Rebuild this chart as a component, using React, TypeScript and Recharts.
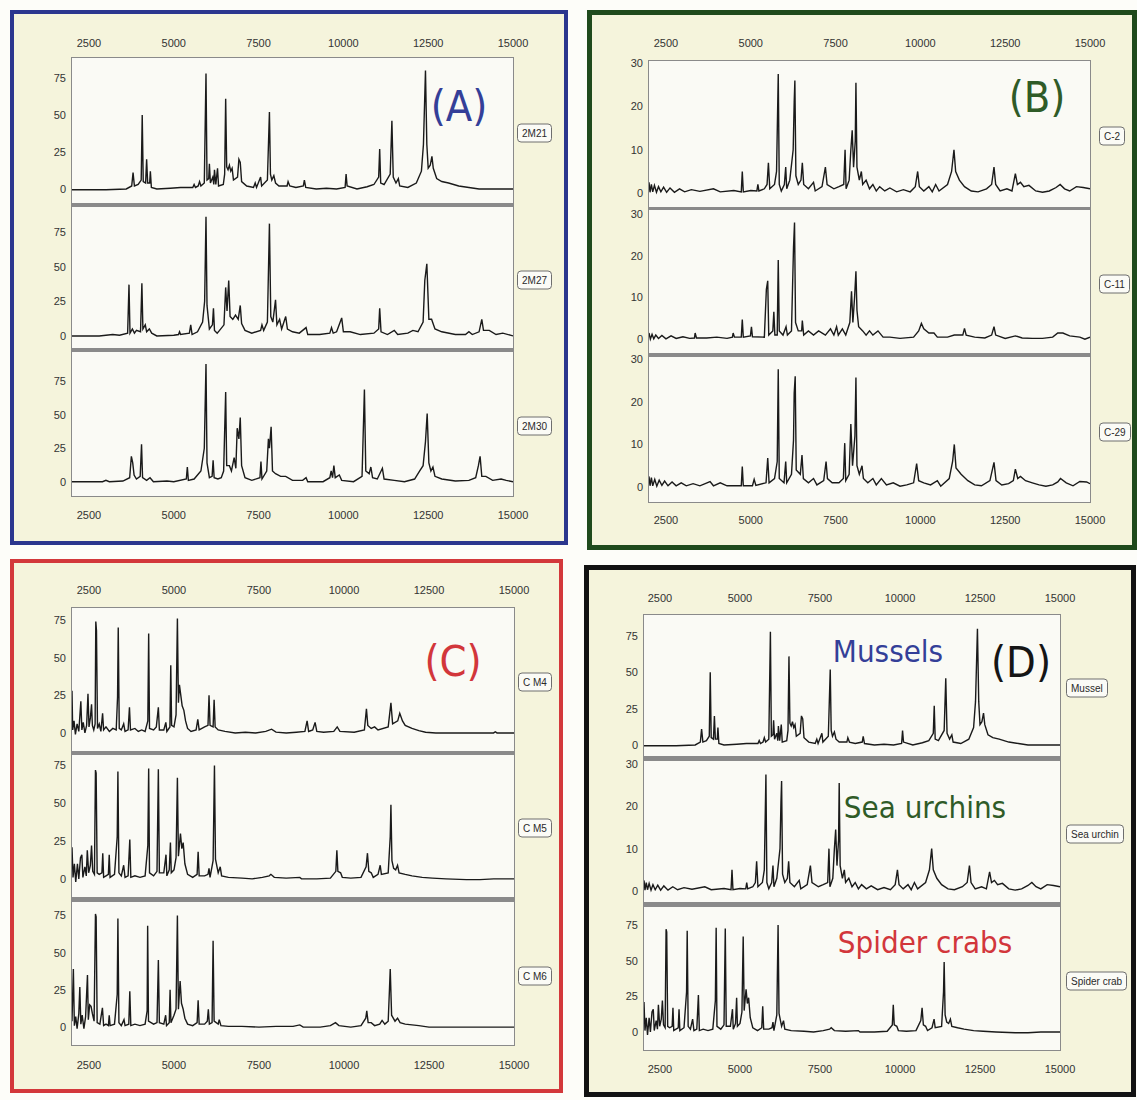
import { LineChart, Line, XAxis, YAxis, CartesianGrid } from "recharts";

type Pt = [number, number];

const mzTicks = [2500, 5000, 7500, 10000, 12500, 15000];
const ticks75 = [0, 25, 50, 75];
const ticks30 = [0, 10, 20, 30];

// (A) mussel samples
const spec2M21: Pt[] = [
  [2000, -0.5], [3000, -0.5], [3600, 0], [3760, 2], [3800, 11], [3840, 2], [3950, 3], [4040, 6], [4070, 50], [4100, 5],
  [4170, 4], [4200, 20], [4230, 4], [4290, 4], [4310, 12], [4340, 1], [4500, 0], [4900, 0.5], [5200, 1], [5560, 1],
  [5600, 3], [5640, 1], [5720, 2], [5760, 5], [5800, 2], [5900, 4], [5950, 78], [5980, 6], [6030, 7], [6050, 17],
  [6080, 4], [6150, 8], [6180, 3], [6200, 13], [6240, 3], [6290, 14], [6320, 2], [6460, 3], [6500, 10], [6530, 61],
  [6560, 15], [6600, 13], [6640, 16], [6680, 12], [6720, 14], [6760, 6], [6880, 8], [6920, 20], [6960, 18], [7000, 5],
  [7150, 2], [7350, 1], [7400, 4], [7440, 1], [7560, 8], [7590, 2], [7760, 6], [7820, 52], [7850, 10], [7890, 6],
  [7950, 9], [8000, 4], [8100, 2], [8340, 2], [8370, 5], [8420, 2], [8600, 1], [8820, 2], [8850, 6], [8890, 1],
  [9200, 0], [9500, 0.5], [9800, 0], [10050, 1], [10080, 10], [10110, 2], [10400, 0], [10700, 1.5], [10900, 3], [11040, 8],
  [11070, 27], [11100, 4], [11200, 3], [11380, 10], [11430, 46], [11470, 8], [11550, 4], [11620, 7], [11660, 2], [11900, 1],
  [12150, 4], [12300, 12], [12360, 30], [12420, 80], [12460, 30], [12500, 14], [12560, 16], [12610, 22], [12650, 14], [12750, 7],
  [12900, 5], [13100, 4], [13400, 2], [13700, 1], [14000, 0], [14500, 0], [15000, 0],
];

const spec2M27: Pt[] = [
  [2000, 0], [2800, 0], [3200, 1], [3400, 0.5], [3640, 2], [3680, 37], [3710, 2], [3780, 5], [3840, 2], [3900, 4],
  [4020, 3], [4060, 38], [4090, 5], [4160, 8], [4200, 3], [4280, 5], [4350, 2], [4500, 0], [5000, 0.5], [5140, 1],
  [5170, 3], [5200, 1], [5460, 2], [5500, 8], [5540, 1], [5700, 3], [5850, 10], [5910, 25], [5950, 86], [5980, 22],
  [6050, 5], [6140, 8], [6170, 20], [6200, 4], [6280, 2], [6350, 4], [6480, 8], [6530, 35], [6570, 18], [6620, 40],
  [6660, 14], [6740, 12], [6820, 15], [6900, 12], [6960, 22], [7000, 9], [7100, 4], [7300, 2], [7560, 4], [7600, 8],
  [7650, 4], [7760, 10], [7820, 81], [7860, 14], [7920, 10], [8000, 26], [8040, 8], [8120, 12], [8180, 5], [8300, 14],
  [8350, 5], [8500, 3], [8700, 2], [8900, 6], [8950, 1], [9300, 1], [9600, 2], [9650, 6], [9700, 2], [9800, 3],
  [9950, 13], [10000, 3], [10200, 3], [10500, 1], [10900, 2], [11040, 5], [11070, 20], [11110, 3], [11300, 1], [11500, 4],
  [11600, 1], [11900, 2], [12050, 4], [12200, 3], [12350, 10], [12400, 40], [12460, 52], [12520, 12], [12600, 12], [12700, 5],
  [12900, 3], [13300, 1], [13600, 1], [13700, 3], [13800, 1], [14000, 3], [14080, 12], [14130, 4], [14300, 4], [14500, 1],
  [14700, 2], [15000, 0],
];

const spec2M30: Pt[] = [
  [2000, 0], [2900, 0], [3000, 1], [3100, 0], [3500, 0.5], [3700, 3], [3750, 19], [3790, 14], [3830, 5], [3900, 2],
  [4010, 4], [4050, 28], [4080, 3], [4200, 1], [4300, 3], [4400, 0], [4800, 0.5], [5000, 0], [5370, 2], [5400, 11],
  [5430, 1], [5600, 2], [5800, 8], [5900, 25], [5950, 88], [5980, 14], [6050, 3], [6130, 4], [6160, 16], [6190, 3],
  [6300, 2], [6400, 3], [6470, 8], [6530, 67], [6560, 12], [6640, 12], [6700, 8], [6780, 18], [6830, 10], [6870, 40],
  [6920, 32], [6960, 48], [7000, 12], [7100, 3], [7300, 1], [7540, 3], [7570, 15], [7600, 2], [7740, 8], [7790, 32],
  [7820, 25], [7870, 41], [7910, 8], [8000, 6], [8150, 4], [8300, 4], [8500, 1], [8800, 1], [8900, 3], [8950, 0],
  [9400, 0], [9600, 3], [9640, 8], [9680, 3], [9720, 12], [9760, 3], [9880, 5], [9950, 1], [10300, 0], [10550, 4],
  [10620, 69], [10660, 8], [10760, 6], [10810, 11], [10860, 3], [11000, 2], [11150, 10], [11200, 2], [11500, 1], [11800, 0],
  [12100, 2], [12250, 8], [12350, 12], [12420, 30], [12470, 51], [12520, 14], [12580, 8], [12640, 11], [12700, 4], [12900, 2],
  [13300, 0.5], [13700, 1], [13900, 3], [13980, 12], [14030, 19], [14080, 4], [14200, 4], [14400, 1], [14650, 2], [14800, 1],
  [15000, 0],
];

// (B) sea urchin samples
const specC2: Pt[] = [
  [2000, 2.5], [2030, 0.2], [2070, 2], [2110, 0.3], [2160, 1.8], [2220, 0.2], [2280, 1.5], [2350, 0.3], [2430, 1.4], [2520, 0.2],
  [2620, 1.2], [2750, 0.2], [2900, 1], [3050, 0.3], [3250, 0.8], [3500, 0.4], [3900, 1], [4100, 0.3], [4500, 0.6], [4720, 0.3],
  [4750, 5], [4780, 0.3], [5000, 0.6], [5180, 0.5], [5210, 2], [5240, 0.5], [5400, 1], [5480, 2], [5520, 7], [5560, 1],
  [5700, 2], [5760, 5], [5810, 27.5], [5840, 2], [5900, 0.5], [5990, 2], [6030, 6], [6060, 1], [6150, 3], [6250, 10],
  [6280, 21], [6300, 26], [6330, 4], [6400, 2], [6480, 3], [6520, 7], [6560, 2], [6700, 1], [6850, 2.5], [6900, 0.5],
  [7100, 1.5], [7200, 6], [7250, 2], [7450, 1], [7600, 1.5], [7740, 2], [7780, 10], [7810, 1], [7900, 3], [7950, 10],
  [7990, 14.5], [8030, 6], [8080, 12], [8100, 25.5], [8130, 6], [8200, 3], [8260, 5], [8300, 2], [8400, 3], [8500, 1],
  [8600, 2], [8700, 0.5], [8800, 1.5], [8950, 0.5], [9100, 1.2], [9300, 0.3], [9500, 0.8], [9700, 0.3], [9850, 1.5], [9920, 5],
  [9970, 1.5], [10100, 0.5], [10250, 1.5], [10350, 0.3], [10450, 2], [10550, 0.5], [10800, 2], [10920, 5], [10990, 10], [11040, 5],
  [11150, 3], [11300, 1.5], [11500, 0.5], [11700, 0.3], [11950, 1], [12100, 2], [12170, 6], [12220, 2], [12350, 0.5], [12550, 1],
  [12700, 0.5], [12800, 4.5], [12860, 2], [12950, 2.5], [13050, 1.5], [13200, 1.8], [13400, 0.5], [13600, 0.2], [13800, 0.5], [14000, 1.3],
  [14120, 2], [14250, 1], [14400, 0.5], [14600, 1.5], [14800, 1.3], [15000, 1],
];

const specC11: Pt[] = [
  [2000, 1.5], [2040, 0], [2090, 1.2], [2140, 0.1], [2200, 1], [2280, 0.2], [2380, 0.9], [2500, 0.1], [2650, 0.8], [2800, 0.2],
  [3000, 0.6], [3200, 0.2], [3340, 0.3], [3360, 1.5], [3400, 0.3], [3700, 0.3], [4000, 0.5], [4300, 0.2], [4460, 0.5], [4480, 1.5],
  [4520, 0.5], [4720, 0.5], [4750, 4.7], [4780, 0.5], [4990, 0.8], [5020, 3], [5050, 0.6], [5400, 0.5], [5460, 12], [5500, 14],
  [5530, 1], [5650, 2], [5680, 6.6], [5710, 1], [5780, 1], [5810, 19], [5840, 2], [5950, 1], [6040, 3], [6080, 1],
  [6200, 2], [6260, 22], [6290, 28], [6320, 4], [6400, 2], [6500, 2], [6520, 4.5], [6560, 1], [6700, 2], [6850, 1],
  [7000, 2], [7200, 1], [7350, 2.5], [7450, 1], [7530, 3], [7580, 1], [7700, 2.5], [7800, 1], [7920, 4], [7970, 11.5],
  [8010, 4], [8060, 10], [8100, 16.3], [8130, 7], [8180, 3], [8300, 2], [8400, 1], [8500, 2], [8600, 1], [8750, 2],
  [8900, 0.5], [9100, 0.5], [9400, 0.2], [9800, 0.5], [9950, 2], [10030, 3.8], [10100, 2.5], [10250, 1.5], [10400, 1.5], [10500, 0.5],
  [10800, 0.5], [11000, 1], [11250, 1], [11300, 2.6], [11350, 1], [11600, 0.5], [11900, 0.3], [12100, 1], [12170, 3], [12220, 1],
  [12500, 0.2], [12800, 0.8], [13000, 0.3], [13300, 0.2], [13600, 0.2], [13900, 0.5], [14050, 1.5], [14200, 1.5], [14400, 0.8], [14700, 0.5],
  [14850, 0], [15000, 0.5],
];

const specC29: Pt[] = [
  [2000, 2.5], [2030, 0.3], [2070, 2.2], [2110, 0.3], [2170, 1.8], [2230, 0.2], [2300, 1.6], [2380, 0.4], [2460, 1.4], [2560, 0.3],
  [2680, 1.2], [2800, 0.3], [2950, 1], [3100, 0.3], [3300, 0.8], [3500, 0.3], [3800, 1.3], [3900, 0.3], [4100, 1], [4300, 0.3],
  [4720, 0.3], [4750, 4.8], [4780, 0.3], [5050, 0.3], [5100, 1.8], [5150, 0.4], [5450, 1], [5500, 6.8], [5540, 1], [5700, 2],
  [5780, 6], [5810, 27.6], [5840, 2], [5980, 1], [6030, 6], [6060, 1], [6200, 3], [6260, 11], [6280, 22], [6310, 26],
  [6340, 4], [6460, 3], [6510, 7.5], [6550, 2], [6700, 1], [6850, 2], [6950, 0.5], [7150, 1.5], [7220, 6], [7260, 2],
  [7400, 1], [7600, 1], [7730, 2], [7770, 10.3], [7800, 1.5], [7900, 3], [7950, 14.8], [8000, 5], [8070, 12], [8100, 25.7],
  [8130, 5], [8200, 3], [8280, 5], [8320, 2], [8450, 1], [8600, 2], [8700, 0.5], [8850, 2], [9000, 0.5], [9200, 1],
  [9400, 0.2], [9600, 0.5], [9800, 1], [9890, 5.5], [9950, 1.5], [10100, 1], [10300, 0.5], [10500, 1.5], [10600, 0.2], [10850, 2],
  [10950, 6], [11000, 10], [11050, 4.5], [11200, 3], [11400, 1.5], [11600, 0.5], [11800, 0.3], [12050, 1.5], [12170, 5.8], [12230, 1.5],
  [12400, 0.5], [12600, 0.8], [12740, 1.5], [12800, 4.2], [12870, 2], [12950, 2.5], [13100, 1.5], [13300, 1], [13500, 0.5], [13700, 0.2],
  [13900, 0.5], [14050, 1.2], [14130, 2], [14300, 1], [14500, 0.3], [14700, 1.3], [14900, 1.2], [15000, 0.8],
];

// (C) spider crab samples
const specCM4: Pt[] = [
  [2000, 28], [2020, 2], [2060, 8], [2100, -1], [2150, 6], [2200, 1], [2260, 21], [2290, 2], [2330, 7], [2380, 0],
  [2430, 5], [2470, 26], [2500, 4], [2540, 10], [2575, 19], [2600, 5], [2640, 2], [2680, 6], [2700, 74], [2720, 68],
  [2750, 3], [2800, 6], [2850, 1], [2900, 13], [2930, 2], [3000, 4], [3100, 1], [3200, 3], [3300, 2], [3340, 24],
  [3360, 70], [3390, 3], [3450, 2], [3520, 6], [3560, 1], [3650, 2], [3690, 17], [3720, 2], [3850, 3], [3950, 1],
  [4050, 2], [4150, 1], [4230, 8], [4255, 66], [4280, 3], [4400, 2], [4480, 4], [4540, 17], [4570, 2], [4700, 2],
  [4760, 7], [4790, 1], [4880, 4], [4905, 45], [4930, 5], [5000, 4], [5060, 12], [5100, 76], [5130, 20], [5160, 32],
  [5200, 25], [5240, 18], [5290, 15], [5340, 8], [5400, 3], [5500, 1], [5650, 2], [5700, 9], [5740, 2], [5900, 4],
  [6000, 5], [6030, 25], [6060, 5], [6150, 4], [6180, 22], [6210, 4], [6300, 2], [6500, 1], [6800, 0], [7100, 0.5],
  [7400, 0], [7700, 1], [7870, 2.5], [8000, 0.5], [8300, 0], [8600, 0.5], [8850, 1], [8915, 8], [8960, 1], [9080, 2],
  [9150, 7], [9200, 1], [9400, 0.5], [9700, 1], [9800, 4], [9880, 1], [10300, 0.5], [10600, 2], [10660, 16], [10700, 5],
  [10800, 3], [10900, 4], [11000, 2], [11300, 4], [11380, 20], [11430, 6], [11580, 8], [11640, 13], [11720, 8], [11800, 5],
  [12000, 3], [12200, 1.5], [12400, 0.5], [12700, 0], [13500, 0], [14400, 0], [14450, 0.8], [14500, 0], [15000, 0],
];

const specCM5: Pt[] = [
  [2000, 21], [2030, 1], [2070, 10], [2110, -2], [2160, 10], [2200, 0], [2250, 14], [2290, 16], [2320, 1], [2380, 8],
  [2420, 2], [2450, 19], [2490, 4], [2540, 9], [2575, 22], [2610, 5], [2660, 3], [2690, 72], [2710, 70], [2740, 4],
  [2800, 3], [2880, 4], [2905, 17], [2930, 1], [3000, 2], [3070, 3], [3095, 16], [3120, 1], [3250, 3], [3330, 28],
  [3350, 71], [3380, 4], [3450, 2], [3520, 9], [3560, 1], [3650, 2], [3700, 26], [3730, 1], [3850, 2], [4000, 1],
  [4150, 2], [4230, 22], [4255, 73], [4280, 4], [4400, 2], [4500, 5], [4540, 72.5], [4570, 4], [4700, 4], [4765, 16],
  [4790, 2], [4860, 6], [4895, 24], [4920, 4], [5000, 6], [5060, 14], [5100, 67], [5130, 15], [5190, 30], [5230, 20],
  [5270, 24], [5320, 10], [5400, 3], [5550, 1], [5680, 3], [5710, 18], [5740, 2], [5900, 2], [6000, 3], [6030, 7],
  [6060, 1], [6150, 12], [6190, 75], [6220, 13], [6300, 4], [6360, 8], [6400, 2], [6600, 1], [7000, 0.5], [7300, 0],
  [7600, 1], [7800, 2], [7850, 3], [7950, 1], [8300, 0.5], [8700, 1], [8750, 0], [9200, 0], [9600, 0.5], [9760, 5],
  [9790, 19], [9820, 5], [9900, 4], [9950, 1], [10200, 0.5], [10500, 1], [10650, 8], [10690, 17], [10730, 5], [10800, 4],
  [10860, 1], [11000, 3], [11065, 9], [11100, 3], [11300, 4], [11360, 28], [11380, 49], [11410, 12], [11460, 7], [11520, 6],
  [11575, 9], [11620, 4], [11800, 3], [12000, 2], [12300, 1], [12600, 0.5], [13000, 0], [13600, -0.5], [14000, -0.5], [14400, 0],
  [15000, 0],
];

const specCM6: Pt[] = [
  [2000, 4], [2040, 39], [2070, 1], [2110, 7], [2150, -1], [2200, 9], [2230, 27], [2260, 2], [2300, 8], [2350, -1],
  [2400, 7], [2455, 35], [2480, 5], [2520, 15], [2560, 14], [2600, 9], [2650, 4], [2690, 76], [2710, 74], [2740, 3],
  [2820, 2], [2895, 13], [2930, 1], [3000, 2], [3070, 1], [3095, 8], [3120, 1], [3250, 2], [3330, 22], [3350, 73],
  [3380, 3], [3450, 1], [3530, 5], [3560, 1], [3670, 2], [3700, 24], [3730, 1], [3850, 2], [4000, 1], [4150, 2],
  [4210, 11], [4225, 68], [4250, 4], [4400, 2], [4500, 3], [4540, 45], [4570, 3], [4700, 2], [4755, 8], [4780, 1],
  [4860, 3], [4885, 25], [4910, 3], [5000, 8], [5060, 12], [5100, 75], [5130, 12], [5180, 31], [5220, 16], [5270, 12],
  [5320, 6], [5400, 2], [5550, 1], [5680, 3], [5710, 18], [5740, 2], [5900, 2], [5980, 4], [6010, 12], [6040, 2],
  [6120, 3], [6150, 58], [6180, 4], [6300, 2], [6330, 5], [6380, 1], [6600, 0.5], [7000, 0.5], [7500, 0], [8000, 0.5],
  [8500, 0.5], [8700, 1.5], [8800, 0], [9300, 0], [9600, 1], [9750, 3], [9850, 1], [10200, 0], [10500, 1], [10640, 6],
  [10670, 11], [10710, 3], [10800, 3], [10900, 1], [11050, 2], [11120, 4.5], [11200, 2], [11300, 4], [11340, 27], [11360, 39],
  [11400, 8], [11500, 4], [11575, 6], [11650, 3], [11800, 2], [12000, 1.5], [12200, 1], [12500, 0], [13000, 0], [15000, 0],
];

// (D) one representative spectrum per species
const specMussel = spec2M21;
const specUrchin = specC2;
const specSpider = specCM5;

type Plot = { data: Pt[]; top: number; bottom: number; domain: [number, number]; ticks: number[]; tag: string };
type Panel = {
  id: string; left: number; top: number; width: number; height: number; border: number; color: string;
  x0: number; x1: number; topGap: number; bottomGap: number; tagLeft: number; plots: Plot[];
};

const panels: Panel[] = [
  {
    id: "A", left: 10, top: 10, width: 558, height: 535, border: 4, color: "#2b368e",
    x0: 72, x1: 513, topGap: 11, bottomGap: 15, tagLeft: 517,
    plots: [
      { data: spec2M21, top: 58, bottom: 203, domain: [-9.5, 88.5], ticks: ticks75, tag: "2M21" },
      { data: spec2M27, top: 207, bottom: 348, domain: [-8.7, 93], ticks: ticks75, tag: "2M27" },
      { data: spec2M30, top: 352, bottom: 496, domain: [-10.7, 97], ticks: ticks75, tag: "2M30" },
    ],
  },
  {
    id: "B", left: 587, top: 10, width: 550, height: 540, border: 5, color: "#1f4a1c",
    x0: 649, x1: 1090, topGap: 14, bottomGap: 14, tagLeft: 1099,
    plots: [
      { data: specC2, top: 61, bottom: 207, domain: [-3.2, 30.5], ticks: ticks30, tag: "C-2" },
      { data: specC11, top: 210, bottom: 353, domain: [-3.3, 31], ticks: ticks30, tag: "C-11" },
      { data: specC29, top: 357, bottom: 502, domain: [-3.5, 30.5], ticks: ticks30, tag: "C-29" },
    ],
  },
  {
    id: "C", left: 10, top: 559, width: 553, height: 534, border: 4, color: "#d3383b",
    x0: 72, x1: 514, topGap: 14, bottomGap: 16, tagLeft: 518,
    plots: [
      { data: specCM4, top: 608, bottom: 751, domain: [-12, 83], ticks: ticks75, tag: "C M4" },
      { data: specCM5, top: 755, bottom: 897, domain: [-12, 82], ticks: ticks75, tag: "C M5" },
      { data: specCM6, top: 902, bottom: 1045, domain: [-12, 84], ticks: ticks75, tag: "C M6" },
    ],
  },
  {
    id: "D", left: 584, top: 565, width: 552, height: 532, border: 5, color: "#121212",
    x0: 644, x1: 1060, topGap: 13, bottomGap: 15, tagLeft: 1066,
    plots: [
      { data: specMussel, top: 615, bottom: 756, domain: [-7.6, 89.5], ticks: ticks75, tag: "Mussel" },
      { data: specUrchin, top: 761, bottom: 902, domain: [-2.6, 30.7], ticks: ticks30, tag: "Sea urchin" },
      { data: specSpider, top: 907, bottom: 1050, domain: [-12.6, 87.6], ticks: ticks75, tag: "Spider crab" },
    ],
  },
];

const AXIS_W = 40;
const AXIS_H = 30;
const PAD = 10;
const RIGHT = 28;
const tickFont = { fontSize: 11, fill: "#333333", stroke: "none", fontFamily: "'Liberation Sans', Arial, sans-serif" };

function Trace({ plot, panel, pos }: { plot: Plot; panel: Panel; pos: "top" | "mid" | "bottom" }) {
  const rows = plot.data.map(([mz, v]) => ({ mz, v }));
  const plotW = panel.x1 - panel.x0;
  const plotH = plot.bottom - plot.top;
  const above = pos === "top" ? AXIS_H : PAD;
  const below = pos === "bottom" ? AXIS_H : PAD;
  return (
    <div style={{ position: "absolute", left: panel.x0 - AXIS_W, top: plot.top - above }}>
      <LineChart
        width={AXIS_W + plotW + RIGHT}
        height={above + plotH + below}
        data={rows}
        margin={{ top: pos === "top" ? 0 : PAD, right: RIGHT, bottom: pos === "bottom" ? 0 : PAD, left: 0 }}
      >
        <CartesianGrid horizontal={false} vertical={false} fill="#fafaf5" />
        <XAxis
          dataKey="mz"
          type="number"
          domain={[2000, 15000]}
          ticks={mzTicks}
          interval={0}
          allowDataOverflow
          orientation={pos === "bottom" ? "bottom" : "top"}
          hide={pos === "mid"}
          height={AXIS_H}
          axisLine={false}
          tickLine={false}
          tickSize={0}
          tickMargin={pos === "top" ? panel.topGap : panel.bottomGap}
          tick={tickFont}
        />
        <YAxis
          type="number"
          domain={plot.domain}
          ticks={plot.ticks}
          interval={0}
          allowDataOverflow
          width={AXIS_W}
          axisLine={false}
          tickLine={false}
          tickSize={0}
          tickMargin={6}
          tick={tickFont}
        />
        <Line dataKey="v" type="linear" stroke="#1a1a1a" strokeWidth={1.4} dot={false} isAnimationActive={false} />
      </LineChart>
    </div>
  );
}

function PanelView({ panel }: { panel: Panel }) {
  const first = panel.plots[0];
  const last = panel.plots[panel.plots.length - 1];
  return (
    <>
      <div
        style={{
          position: "absolute", left: panel.left, top: panel.top, width: panel.width, height: panel.height,
          boxSizing: "border-box", border: `${panel.border}px solid ${panel.color}`, background: "#f5f4dc",
        }}
      />
      <div
        style={{
          position: "absolute", left: panel.x0 - 1, top: first.top - 1,
          width: panel.x1 - panel.x0 + 2, height: last.bottom - first.top + 2, background: "#8a8a8a",
        }}
      />
      {panel.plots.map((p, i) => (
        <Trace key={p.tag} plot={p} panel={panel} pos={i === 0 ? "top" : i === panel.plots.length - 1 ? "bottom" : "mid"} />
      ))}
      {panel.plots.map((p) => (
        <div
          key={p.tag + "-tag"}
          style={{
            position: "absolute", left: panel.tagLeft, top: (p.top + p.bottom) / 2 + 2, transform: "translateY(-50%)",
            border: "1px solid #6e6e6e", borderRadius: 4, background: "#fbfbf6", padding: "0 4px",
            height: 17, lineHeight: "17px", fontSize: 10, color: "#2a2a2a", whiteSpace: "nowrap",
            fontFamily: "'Liberation Sans', Arial, sans-serif",
          }}
        >
          {p.tag}
        </div>
      ))}
    </>
  );
}

const bigFont = "'DejaVu Sans Condensed', 'DejaVu Sans', sans-serif";

export default function App() {
  return (
    <div style={{ position: "absolute", left: 0, top: 0, width: 1137, height: 1100, background: "#fdfdf9", overflow: "hidden" }}>
      {panels.map((p) => (
        <PanelView key={p.id} panel={p} />
      ))}
      <svg width={1137} height={1100} style={{ position: "absolute", left: 0, top: 0, pointerEvents: "none" }}>
        <g fontFamily={bigFont} textAnchor="middle">
          <text x={459} y={121} fontSize={43} fill="#343f98">(A)</text>
          <text x={1037} y={112} fontSize={43} fill="#2f5b27">(B)</text>
          <text x={453} y={676} fontSize={43} fill="#d2363b">(C)</text>
          <text x={1021} y={677} fontSize={43} fill="#151515">(D)</text>
          <text x={888} y={662} fontSize={31} fill="#343f98">Mussels</text>
          <text x={925} y={818} fontSize={31} fill="#2f5b27">Sea urchins</text>
          <text x={925} y={953} fontSize={31} fill="#d2363b">Spider crabs</text>
        </g>
      </svg>
    </div>
  );
}
